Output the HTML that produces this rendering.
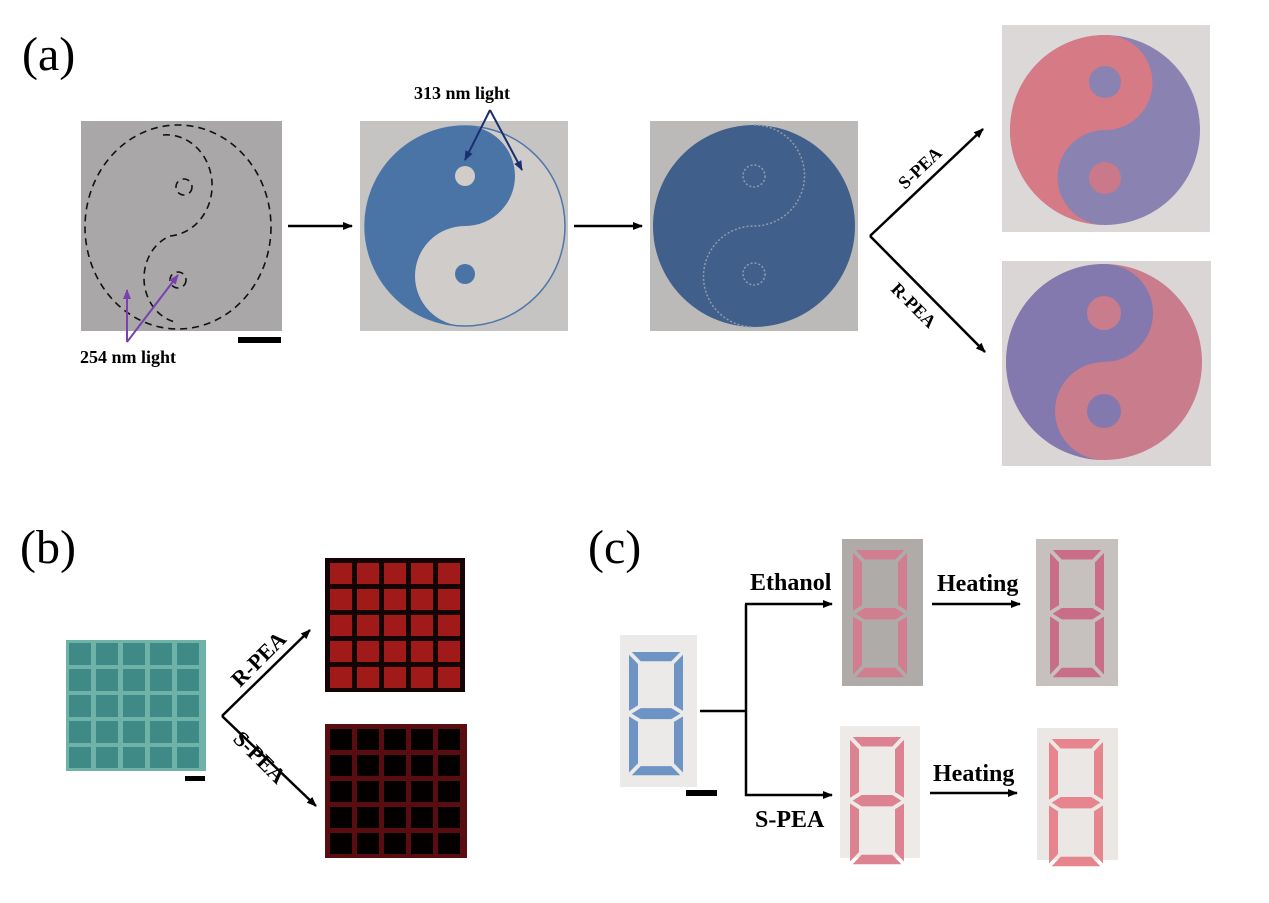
<!DOCTYPE html>
<html><head><style>body{margin:0;background:#fff}svg{display:block}text{font-family:"Liberation Serif",serif;font-weight:bold}</style></head><body>
<svg width="1269" height="903" viewBox="0 0 1269 903" xmlns="http://www.w3.org/2000/svg">
<defs>
<marker id="ah" markerWidth="10" markerHeight="8" refX="9" refY="4" orient="auto" markerUnits="userSpaceOnUse"><path d="M0,0 L10,4 L0,8 Z" fill="#000"/></marker>
<marker id="ahp" markerWidth="10" markerHeight="8" refX="9" refY="4" orient="auto" markerUnits="userSpaceOnUse"><path d="M0,0 L10,4 L0,8 Z" fill="#7a3fb0"/></marker>
<marker id="ahb" markerWidth="10" markerHeight="8" refX="9" refY="4" orient="auto" markerUnits="userSpaceOnUse"><path d="M0,0 L10,4 L0,8 Z" fill="#1a2f70"/></marker>
<g id="dig">
<polygon points="3,0 57,0 47,10 13,10"/>
<polygon points="0,3 10,13 10,58 0,64"/>
<polygon points="60,3 50,13 50,58 60,64"/>
<polygon points="3,67 13,61 47,61 57,67 47,73 13,73"/>
<polygon points="0,70 10,76 10,121 0,131"/>
<polygon points="60,70 50,76 50,121 60,131"/>
<polygon points="3,134 13,124 47,124 57,134"/>
</g>
</defs>
<text x="22" y="70" font-size="48" style="font-weight:normal">(a)</text>
<text x="20" y="563" font-size="48" style="font-weight:normal">(b)</text>
<text x="588" y="563" font-size="48" style="font-weight:normal">(c)</text>

<!-- a1 -->
<rect x="81" y="121" width="201" height="210" fill="#a9a7a8"/>
<g fill="none" stroke="#111" stroke-width="1.6" stroke-dasharray="7,5">
<ellipse cx="178" cy="227" rx="93" ry="102"/>
<path d="M163,135 A45,50 0 0 1 170,236 A40,45 0 0 0 175,322"/>
<circle cx="184" cy="187" r="8"/><circle cx="178" cy="280" r="8"/>
</g>
<rect x="238" y="337" width="43" height="6" fill="#000"/>
<line x1="127" y1="342" x2="127" y2="290" stroke="#7a3fb0" stroke-width="2" marker-end="url(#ahp)"/>
<line x1="127" y1="342" x2="178" y2="275" stroke="#7a3fb0" stroke-width="2" marker-end="url(#ahp)"/>
<text x="80" y="363" font-size="18">254 nm light</text>
<line x1="288" y1="226" x2="352" y2="226" stroke="#000" stroke-width="2.5" marker-end="url(#ah)"/>

<!-- a2 -->
<rect x="360" y="121" width="208" height="210" fill="#c6c4c3"/>
<circle cx="465" cy="226" r="100" fill="#cfccc9" stroke="#4f77a8" stroke-width="1.5"/>
<path d="M465,126 A100,100 0 0 0 465,326 A50,50 0 0 1 465,226 A50,50 0 0 0 465,126Z" fill="#4a74a6"/>
<circle cx="465" cy="176" r="10" fill="#cfccc9"/><circle cx="465" cy="274" r="10" fill="#4a74a6"/>
<text x="414" y="99" font-size="18">313 nm light</text>
<line x1="490" y1="110" x2="465" y2="160" stroke="#1a2f70" stroke-width="2" marker-end="url(#ahb)"/>
<line x1="490" y1="110" x2="522" y2="170" stroke="#1a2f70" stroke-width="2" marker-end="url(#ahb)"/>
<line x1="574" y1="226" x2="642" y2="226" stroke="#000" stroke-width="2.5" marker-end="url(#ah)"/>

<!-- a3 -->
<rect x="650" y="121" width="208" height="210" fill="#bcbab9"/>
<circle cx="754" cy="226" r="101" fill="#405f8a"/>
<g fill="none" stroke="#8e9cb0" stroke-width="1.5" stroke-dasharray="2,2">
<path d="M754,125 A50,50 0 0 1 754,226 A50,50 0 0 0 754,327"/>
<circle cx="754" cy="176" r="11"/><circle cx="754" cy="274" r="11"/></g>

<!-- branch a -->
<line x1="870" y1="236" x2="983" y2="129" stroke="#000" stroke-width="2.5" marker-end="url(#ah)"/>
<line x1="870" y1="236" x2="985" y2="352" stroke="#000" stroke-width="2.5" marker-end="url(#ah)"/>
<text transform="translate(905,190) rotate(-43)" font-size="18">S-PEA</text>
<text transform="translate(890,290) rotate(45)" font-size="18">R-PEA</text>

<!-- a4 -->
<rect x="1002" y="25" width="208" height="207" fill="#dcd8d8"/>
<circle cx="1105" cy="130" r="95" fill="#8a82b0"/>
<path d="M1105,35 A95,95 0 0 0 1105,225 A47.5,47.5 0 0 1 1105,130 A47.5,47.5 0 0 0 1105,35Z" fill="#d67a86"/>
<circle cx="1105" cy="82" r="16" fill="#8a82b0"/><circle cx="1105" cy="178" r="16" fill="#c9798a"/>

<!-- a5 -->
<rect x="1002" y="261" width="209" height="205" fill="#dad6d6"/>
<circle cx="1104" cy="362" r="98" fill="#c97c8c"/>
<path d="M1104,264 A98,98 0 0 0 1104,460 A49,49 0 0 1 1104,362 A49,49 0 0 0 1104,264Z" fill="#8479ae"/>
<circle cx="1104" cy="313" r="17" fill="#c97c8c"/><circle cx="1104" cy="411" r="17" fill="#8479ae"/>

<!-- b -->
<rect x="66" y="640" width="140" height="131" fill="#6fb3a8"/>
<g fill="#3f8a86">
<rect x="69" y="643" width="22" height="22"/><rect x="96" y="643" width="22" height="22"/><rect x="123" y="643" width="22" height="22"/><rect x="150" y="643" width="22" height="22"/><rect x="177" y="643" width="22" height="22"/>
<rect x="69" y="669" width="22" height="22"/><rect x="96" y="669" width="22" height="22"/><rect x="123" y="669" width="22" height="22"/><rect x="150" y="669" width="22" height="22"/><rect x="177" y="669" width="22" height="22"/>
<rect x="69" y="695" width="22" height="22"/><rect x="96" y="695" width="22" height="22"/><rect x="123" y="695" width="22" height="22"/><rect x="150" y="695" width="22" height="22"/><rect x="177" y="695" width="22" height="22"/>
<rect x="69" y="721" width="22" height="22"/><rect x="96" y="721" width="22" height="22"/><rect x="123" y="721" width="22" height="22"/><rect x="150" y="721" width="22" height="22"/><rect x="177" y="721" width="22" height="22"/>
<rect x="69" y="747" width="22" height="21"/><rect x="96" y="747" width="22" height="21"/><rect x="123" y="747" width="22" height="21"/><rect x="150" y="747" width="22" height="21"/><rect x="177" y="747" width="22" height="21"/>
</g>
<rect x="185" y="776" width="20" height="5" fill="#000"/>
<line x1="222" y1="716" x2="310" y2="630" stroke="#000" stroke-width="2.5" marker-end="url(#ah)"/>
<line x1="222" y1="716" x2="316" y2="806" stroke="#000" stroke-width="2.5" marker-end="url(#ah)"/>
<text transform="translate(240,688) rotate(-45)" font-size="22">R-PEA</text>
<text transform="translate(232,740) rotate(45)" font-size="22">S-PEA</text>

<rect x="325" y="558" width="140" height="134" fill="#150405"/>
<g fill="#a01a1a">
<rect x="330" y="563" width="22" height="21"/><rect x="357" y="563" width="22" height="21"/><rect x="384" y="563" width="22" height="21"/><rect x="411" y="563" width="22" height="21"/><rect x="438" y="563" width="22" height="21"/>
<rect x="330" y="589" width="22" height="21"/><rect x="357" y="589" width="22" height="21"/><rect x="384" y="589" width="22" height="21"/><rect x="411" y="589" width="22" height="21"/><rect x="438" y="589" width="22" height="21"/>
<rect x="330" y="615" width="22" height="21"/><rect x="357" y="615" width="22" height="21"/><rect x="384" y="615" width="22" height="21"/><rect x="411" y="615" width="22" height="21"/><rect x="438" y="615" width="22" height="21"/>
<rect x="330" y="641" width="22" height="21"/><rect x="357" y="641" width="22" height="21"/><rect x="384" y="641" width="22" height="21"/><rect x="411" y="641" width="22" height="21"/><rect x="438" y="641" width="22" height="21"/>
<rect x="330" y="667" width="22" height="21"/><rect x="357" y="667" width="22" height="21"/><rect x="384" y="667" width="22" height="21"/><rect x="411" y="667" width="22" height="21"/><rect x="438" y="667" width="22" height="21"/>
</g>
<rect x="325" y="724" width="142" height="134" fill="#5a0d10"/>
<g fill="#050000">
<rect x="330" y="729" width="22" height="21"/><rect x="357" y="729" width="22" height="21"/><rect x="384" y="729" width="22" height="21"/><rect x="411" y="729" width="22" height="21"/><rect x="438" y="729" width="22" height="21"/>
<rect x="330" y="755" width="22" height="21"/><rect x="357" y="755" width="22" height="21"/><rect x="384" y="755" width="22" height="21"/><rect x="411" y="755" width="22" height="21"/><rect x="438" y="755" width="22" height="21"/>
<rect x="330" y="781" width="22" height="21"/><rect x="357" y="781" width="22" height="21"/><rect x="384" y="781" width="22" height="21"/><rect x="411" y="781" width="22" height="21"/><rect x="438" y="781" width="22" height="21"/>
<rect x="330" y="807" width="22" height="21"/><rect x="357" y="807" width="22" height="21"/><rect x="384" y="807" width="22" height="21"/><rect x="411" y="807" width="22" height="21"/><rect x="438" y="807" width="22" height="21"/>
<rect x="330" y="833" width="22" height="21"/><rect x="357" y="833" width="22" height="21"/><rect x="384" y="833" width="22" height="21"/><rect x="411" y="833" width="22" height="21"/><rect x="438" y="833" width="22" height="21"/>
</g>

<!-- c -->
<rect x="620" y="635" width="77" height="152" fill="#eceae8"/>
<use href="#dig" transform="translate(629,652) scale(0.9,0.92)" fill="#6e94c6"/>
<rect x="686" y="790" width="31" height="6" fill="#000"/>
<polyline points="700,711 746,711" fill="none" stroke="#000" stroke-width="2.5"/>
<line x1="746" y1="604" x2="746" y2="796" stroke="#000" stroke-width="2.5"/>
<line x1="745" y1="604" x2="832" y2="604" stroke="#000" stroke-width="2.5" marker-end="url(#ah)"/>
<line x1="745" y1="795" x2="832" y2="795" stroke="#000" stroke-width="2.5" marker-end="url(#ah)"/>
<text x="750" y="590" font-size="24">Ethanol</text>
<text x="755" y="827" font-size="24">S-PEA</text>
<rect x="842" y="539" width="81" height="147" fill="#aeaba8"/>
<use href="#dig" transform="translate(853,550) scale(0.9,0.95)" fill="#d07e90"/>
<line x1="932" y1="604" x2="1020" y2="604" stroke="#000" stroke-width="2.5" marker-end="url(#ah)"/>
<text x="937" y="591" font-size="24">Heating</text>
<rect x="1036" y="539" width="82" height="147" fill="#c6c0be"/>
<use href="#dig" transform="translate(1050,550) scale(0.9,0.95)" fill="#c86e8a"/>
<rect x="840" y="726" width="80" height="132" fill="#eeeae7"/>
<use href="#dig" transform="translate(850,737) scale(0.9,0.95)" fill="#dc8290"/>
<line x1="930" y1="793" x2="1017" y2="793" stroke="#000" stroke-width="2.5" marker-end="url(#ah)"/>
<text x="933" y="781" font-size="24">Heating</text>
<rect x="1037" y="728" width="81" height="132" fill="#ebe7e4"/>
<use href="#dig" transform="translate(1049,739) scale(0.9,0.95)" fill="#e6858e"/>
</svg>
</body></html>
